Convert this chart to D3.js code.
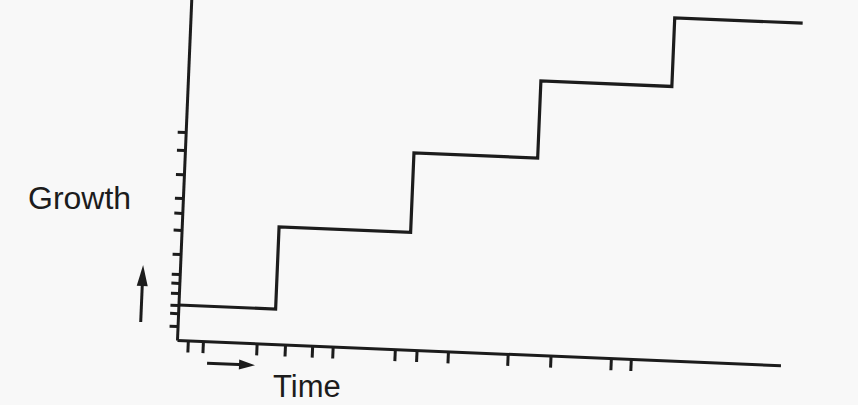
<!DOCTYPE html>
<html>
<head>
<meta charset="utf-8">
<script src="https://cdn.jsdelivr.net/npm/d3@7"></script>
<style>
  html, body { margin: 0; padding: 0; background: #f8f8f8; }
  svg { display: block; }
  text { font-family: "Liberation Sans", Arial, sans-serif; fill: #1c1c1c; }
</style>
</head>
<body>
<svg id="chart" width="858" height="405"></svg>
<script>
// ---- data ----
const stepTimes   = [0, 16.1, 37.9, 58.4, 80.1, 101.3];   // time where each level starts (last = end of line)
const stepGrowth  = [10.3, 34.5, 57.9, 80.6, 100.8, 100.8];
const xTickValues = [1.8, 4.3, 13.2, 17.9, 22.4, 25.8, 36.1, 39.7, 44.9, 54.8, 61.9, 71.9, 75.2];
const yTickValues = [4.1, 7.9, 10.3, 13.8, 16.8, 19.4, 25.3, 32.4, 37.4, 41.8, 48.8, 55.9, 61.2];
const xLabel = "Time";
const yLabel = "Growth";

const W = 858, H = 405;
const svg = d3.select("#chart");
svg.append("rect").attr("width", W).attr("height", H).attr("fill", "#f8f8f8");

const ink = "#1c1c1c";
// the scanned figure is tilted slightly clockwise
const g = svg.append("g").attr("transform", "translate(177,340) rotate(2.4)");

const x = d3.scaleLinear().domain([0, 100]).range([0, 604]);
const y = d3.scaleLinear().domain([0, 110]).range([0, -374]);

// x axis
const xAxis = g.append("g").call(
  d3.axisBottom(x).tickValues(xTickValues).tickSize(12).tickSizeOuter(0).tickFormat("")
);
xAxis.select(".domain").attr("stroke", ink).attr("stroke-width", 3);
xAxis.selectAll(".tick line").attr("stroke", ink).attr("stroke-width", 3);

// y axis
const yAxis = g.append("g").call(
  d3.axisLeft(y).tickValues(yTickValues).tickSize(8).tickSizeOuter(0).tickFormat("")
);
yAxis.select(".domain").attr("stroke", ink).attr("stroke-width", 3);
yAxis.selectAll(".tick line").attr("stroke", ink).attr("stroke-width", 3);

// step line
const pts = stepTimes.map((t, i) => [t, stepGrowth[i]]);
const line = d3.line().x(d => x(d[0])).y(d => y(d[1])).curve(d3.curveStepAfter);
g.append("path").datum(pts)
  .attr("d", line)
  .attr("fill", "none")
  .attr("stroke", ink)
  .attr("stroke-width", 3.2)
  .attr("stroke-linejoin", "miter");

// direction arrows
const upX = -37, upY0 = -16.5, upY1 = -73.5;
g.append("line").attr("x1", upX).attr("x2", upX).attr("y1", upY0).attr("y2", upY1 + 14)
  .attr("stroke", ink).attr("stroke-width", 3);
g.append("path")
  .attr("d", `M${upX},${upY1} L${upX - 5.5},${upY1 + 21} L${upX + 5.5},${upY1 + 21} Z`)
  .attr("fill", ink);

const rX0 = 31, rX1 = 79, rY = 22;
g.append("line").attr("x1", rX0).attr("x2", rX1 - 10).attr("y1", rY).attr("y2", rY)
  .attr("stroke", ink).attr("stroke-width", 3);
g.append("path")
  .attr("d", `M${rX1},${rY} L${rX1 - 16},${rY - 5} L${rX1 - 16},${rY + 5} Z`)
  .attr("fill", ink);

// labels (not tilted)
svg.append("text").attr("x", 28).attr("y", 209).attr("font-size", 32).text(yLabel);
svg.append("text").attr("x", 273).attr("y", 397).attr("font-size", 31).text(xLabel);
</script>
</body>
</html>
